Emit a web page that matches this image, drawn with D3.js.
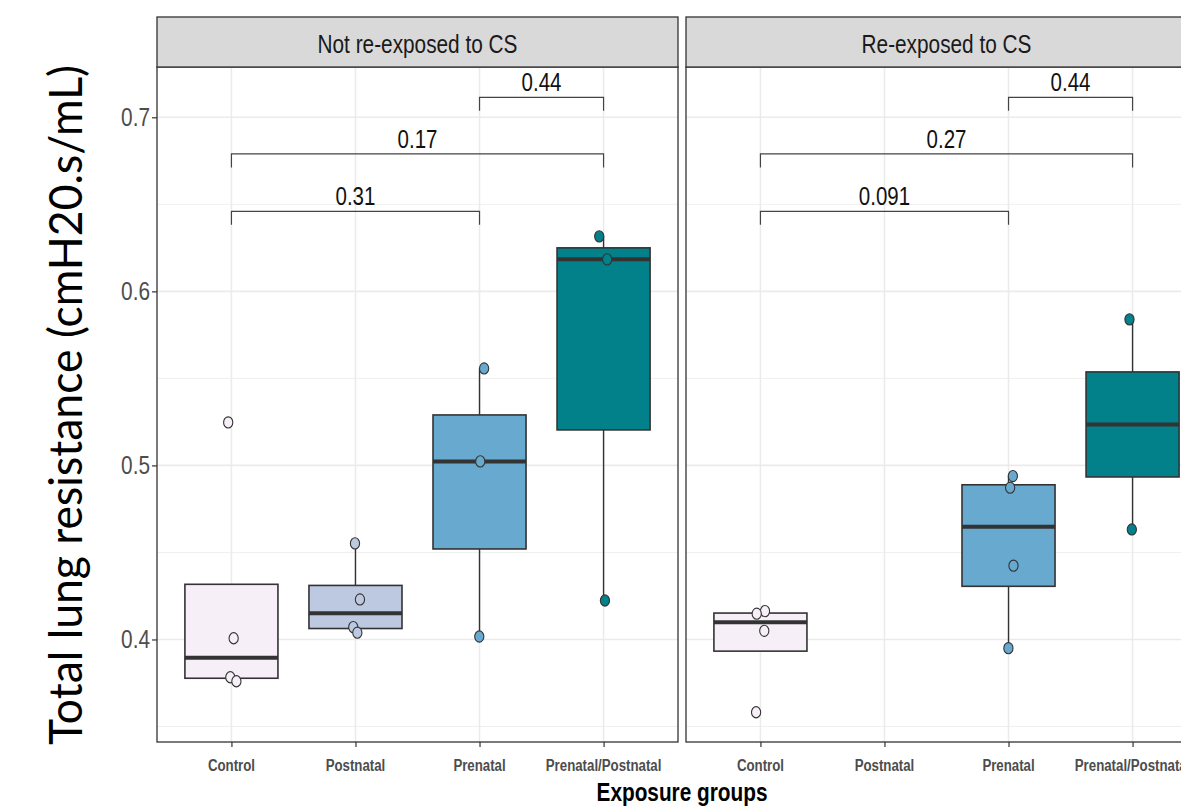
<!DOCTYPE html>
<html>
<head>
<meta charset="utf-8">
<script src="https://cdn.jsdelivr.net/npm/d3@7"></script>
<style>
  html, body { margin: 0; padding: 0; background: #ffffff; overflow: hidden; }
  svg { display: block; }
</style>
</head>
<body>
<svg id="chart" width="1181" height="807"></svg>
<script>
// ---- data -------------------------------------------------------------
const categories = ["Control", "Postnatal", "Prenatal", "Prenatal/Postnatal"];
const panels = ["Not re-exposed to CS", "Re-exposed to CS"];
const groupColors = ["#f6eff7", "#bdc9e1", "#67a9cf", "#02818a"];

// individual animals, per panel and group (total lung resistance)
const notReExposedValues = [
  [0.5247, 0.4007, 0.3783, 0.3760],
  [0.4552, 0.4230, 0.4071, 0.4039],
  [0.5557, 0.5023, 0.4017],
  [0.6316, 0.6184, 0.4224]
];
const reExposedValues = [
  [0.4163, 0.4148, 0.4050, 0.3582],
  [],
  [0.4939, 0.4872, 0.4424, 0.3950],
  [0.5839, 0.4632]
];
// horizontal jitter of each point, as a fraction of the category step
const notReExposedJitter = [
  [-0.026, 0.018, -0.009, 0.040],
  [-0.004, 0.036, -0.018, 0.015],
  [0.037, 0.006, -0.002],
  [-0.035, 0.029, 0.011]
];
const reExposedJitter = [
  [0.037, -0.030, 0.031, -0.035],
  [],
  [0.035, 0.013, 0.040, -0.001],
  [-0.025, -0.006]
];

// pairwise comparison brackets (p-values)
const comparisonPairs = [["Control", "Prenatal"], ["Control", "Prenatal/Postnatal"], ["Prenatal", "Prenatal/Postnatal"]];
const comparisonY = [0.646, 0.679, 0.7115];
const notReExposedP = ["0.31", "0.17", "0.44"];
const reExposedP = ["0.091", "0.27", "0.44"];

const yMajorTicks = [0.4, 0.5, 0.6, 0.7];
const yMinorTicks = [0.35, 0.45, 0.55, 0.65];
const yTitle = "Total lung resistance (cmH20.s/mL)";
const xTitle = "Exposure groups";

// ---- layout -------------------------------------------------------------
const svg = d3.select("#chart");
const panelTop = 67, panelBottom = 742, stripTop = 17;
const panelWidth = 521, panelGap = 8, firstPanelX = 157;
const sx = 0.8;              // horizontal squeeze of the chart lettering
const chartFont = "'Liberation Sans', Arial, sans-serif";
const dark = "#333333";

const y = d3.scaleLinear().domain([0.3411, 0.7289]).range([panelBottom, panelTop]);

function squeezedText(parent, x, yPos, str, opts) {
  const g = parent.append("g").attr("transform", `translate(${x},${yPos}) scale(${opts.sx ?? sx},1)`);
  return g.append("text")
    .attr("x", 0).attr("y", 0)
    .attr("text-anchor", opts.anchor || "middle")
    .attr("font-family", opts.family || chartFont)
    .attr("font-size", opts.size)
    .attr("font-weight", opts.weight || "normal")
    .attr("fill", opts.fill || "#000")
    .text(str);
}

const panelData = [
  { title: panels[0], values: notReExposedValues, jitter: notReExposedJitter, p: notReExposedP },
  { title: panels[1], values: reExposedValues, jitter: reExposedJitter, p: reExposedP }
];

function boxStats(vals) {
  const s = vals.slice().sort(d3.ascending);
  const q1 = d3.quantile(s, 0.25), med = d3.quantile(s, 0.5), q3 = d3.quantile(s, 0.75);
  const iqr = q3 - q1;
  const lo = d3.min(s.filter(v => v >= q1 - 1.5 * iqr));
  const hi = d3.max(s.filter(v => v <= q3 + 1.5 * iqr));
  return { q1, med, q3, lo, hi };
}

panelData.forEach((pd, pi) => {
  const x0 = firstPanelX + pi * (panelWidth + panelGap);
  const x = d3.scalePoint().domain(categories).range([x0, x0 + panelWidth]).padding(0.6);
  const step = x.step();
  const g = svg.append("g");

  // background grid
  g.selectAll("line.minor").data(yMinorTicks).join("line")
    .attr("x1", x0).attr("x2", x0 + panelWidth)
    .attr("y1", d => y(d)).attr("y2", d => y(d))
    .attr("stroke", "#ebebeb").attr("stroke-width", 0.8);
  g.selectAll("line.major").data(yMajorTicks).join("line")
    .attr("x1", x0).attr("x2", x0 + panelWidth)
    .attr("y1", d => y(d)).attr("y2", d => y(d))
    .attr("stroke", "#ebebeb").attr("stroke-width", 1.6);
  g.selectAll("line.vgrid").data(categories).join("line")
    .attr("x1", d => x(d)).attr("x2", d => x(d))
    .attr("y1", panelTop).attr("y2", panelBottom)
    .attr("stroke", "#ebebeb").attr("stroke-width", 1.6);

  // boxes
  const boxW = step * 0.75;
  categories.forEach((cat, ci) => {
    const vals = pd.values[ci];
    if (!vals.length) return;
    const st = boxStats(vals);
    const cx = x(cat);
    const bg = g.append("g");
    if (st.hi > st.q3) bg.append("line").attr("x1", cx).attr("x2", cx)
      .attr("y1", y(st.q3)).attr("y2", y(st.hi)).attr("stroke", dark).attr("stroke-width", 1.4);
    if (st.lo < st.q1) bg.append("line").attr("x1", cx).attr("x2", cx)
      .attr("y1", y(st.q1)).attr("y2", y(st.lo)).attr("stroke", dark).attr("stroke-width", 1.4);
    bg.append("rect")
      .attr("x", cx - boxW / 2).attr("width", boxW)
      .attr("y", y(st.q3)).attr("height", y(st.q1) - y(st.q3))
      .attr("fill", groupColors[ci]).attr("stroke", dark).attr("stroke-width", 1.6);
    bg.append("line").attr("x1", cx - boxW / 2).attr("x2", cx + boxW / 2)
      .attr("y1", y(st.med)).attr("y2", y(st.med))
      .attr("stroke", dark).attr("stroke-width", 4);
  });

  // jittered points
  categories.forEach((cat, ci) => {
    g.selectAll(null).data(pd.values[ci].map((v, k) => ({ v, j: pd.jitter[ci][k] }))).join("ellipse")
      .attr("cx", d => x(cat) + d.j * step)
      .attr("cy", d => y(d.v))
      .attr("rx", 4.6).attr("ry", 5.6)
      .attr("fill", groupColors[ci]).attr("stroke", dark).attr("stroke-width", 1.1);
  });

  // comparison brackets
  const drop = 0.0078;
  comparisonPairs.forEach((pair, k) => {
    const xa = x(pair[0]), xb = x(pair[1]), yy = comparisonY[k];
    g.append("path")
      .attr("d", `M${xa},${y(yy - drop)}V${y(yy)}H${xb}V${y(yy - drop)}`)
      .attr("fill", "none").attr("stroke", "#444").attr("stroke-width", 1.2);
    squeezedText(g, (xa + xb) / 2, y(yy) - 6, pd.p[k], { size: 25, sx: 0.82, fill: "#111" });
  });

  // panel border
  g.append("rect").attr("x", x0).attr("y", panelTop)
    .attr("width", panelWidth).attr("height", panelBottom - panelTop)
    .attr("fill", "none").attr("stroke", dark).attr("stroke-width", 1.3);

  // facet strip
  g.append("rect").attr("x", x0).attr("y", stripTop)
    .attr("width", panelWidth).attr("height", panelTop - stripTop)
    .attr("fill", "#d9d9d9").attr("stroke", dark).attr("stroke-width", 1.3);
  squeezedText(g, x0 + panelWidth / 2, 53, pd.title, { size: 26, fill: "#1a1a1a" });

  // x axis ticks and labels
  const xAxis = d3.axisBottom(x).tickSize(5).tickPadding(6).tickFormat("");
  const ax = g.append("g").attr("transform", `translate(0,${panelBottom})`).call(xAxis);
  ax.select(".domain").remove();
  ax.selectAll(".tick line").attr("stroke", dark).attr("stroke-width", 1.2);
  categories.forEach(cat => {
    squeezedText(g, x(cat), 771, cat, { size: 17, weight: "bold", fill: "#4d4d4d", sx: 0.78 });
  });

  // y axis on the first panel only
  if (pi === 0) {
    const yAxis = d3.axisLeft(y).tickValues(yMajorTicks).tickSize(5).tickFormat("");
    const ay = g.append("g").attr("transform", `translate(${x0},0)`).call(yAxis);
    ay.select(".domain").remove();
    ay.selectAll(".tick line").attr("stroke", dark).attr("stroke-width", 1.2);
    yMajorTicks.forEach(t => {
      squeezedText(g, x0 - 7, y(t) + 9, d3.format(".1f")(t), { size: 26, anchor: "end", fill: "#4d4d4d" });
    });
  }
});

// axis titles
squeezedText(svg, firstPanelX + panelWidth + panelGap / 2, 801, xTitle, { size: 26, weight: "bold", fill: "#000" });

svg.append("text")
  .attr("transform", "translate(82,405) rotate(-90)")
  .attr("text-anchor", "middle")
  .attr("font-family", "Lato, 'Open Sans', sans-serif")
  .attr("font-size", 46)
  .attr("textLength", 680)
  .attr("lengthAdjust", "spacingAndGlyphs")
  .attr("fill", "#000")
  .text(yTitle);
</script>
</body>
</html>
